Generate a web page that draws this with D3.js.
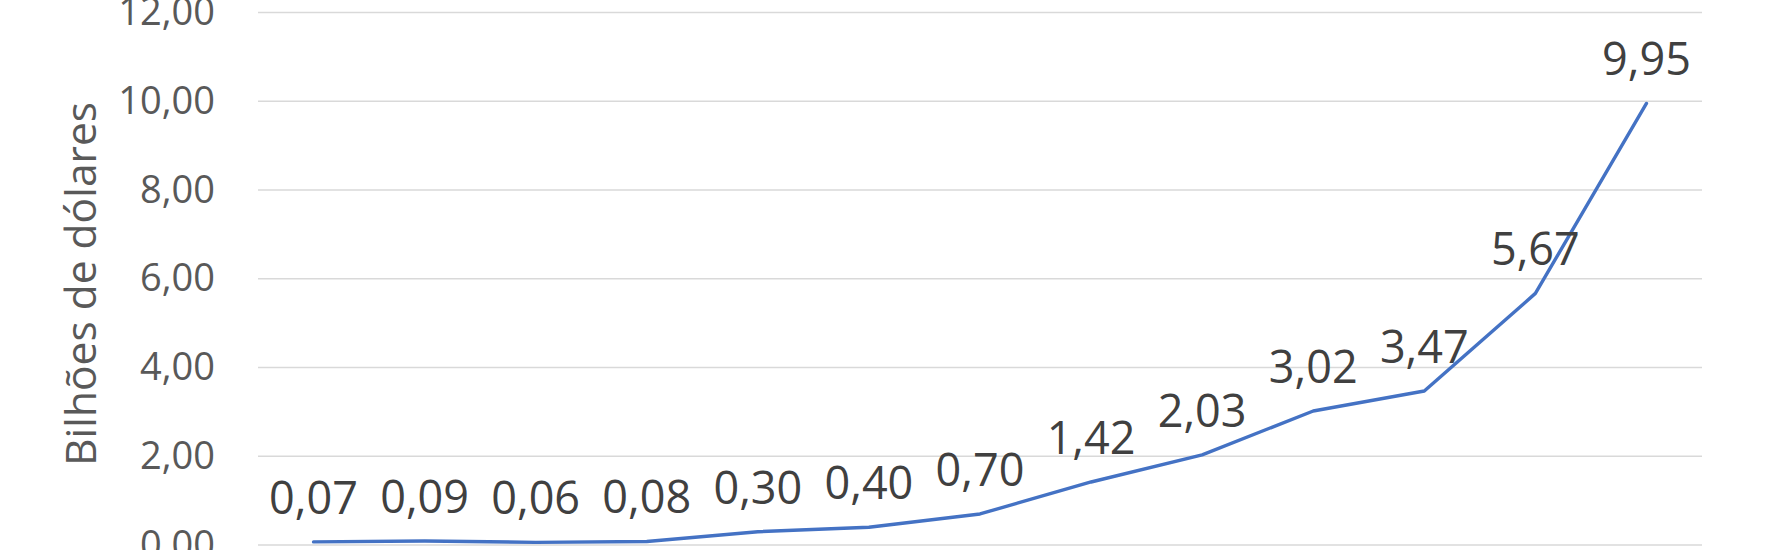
<!DOCTYPE html>
<html lang="pt">
<head>
  <meta charset="UTF-8" />
  <title>Bilhões de dólares</title>
  <script src="https://d3js.org/d3.v7.min.js"></script>
  <style>
    body {
      margin: 0;
      background: #ffffff;
      font-family: "Open Sans", sans-serif;
    }
    svg {
      display: block;
    }
  </style>
</head>
<body>
  <div id="chart"></div>
  <script>
    // pontos da série (eixo x sem rótulos visíveis)
    const categories = ["1", "2", "3", "4", "5", "6", "7", "8", "9", "10", "11", "12", "13"];
    const values = [0.07, 0.09, 0.06, 0.08, 0.30, 0.40, 0.70, 1.42, 2.03, 3.02, 3.47, 5.67, 9.95];
    const yTicks = [0, 2, 4, 6, 8, 10, 12];
    const yTitle = "Bilhões de dólares";

    const W = 1772, H = 550;
    const margin = { top: 12.5, right: 70, bottom: 5, left: 258 };

    const fmt = (v) => d3.format(".2f")(v).replace(".", ",");

    const svg = d3.select("#chart")
      .append("svg")
      .attr("width", W)
      .attr("height", H);

    const x = d3.scaleBand()
      .domain(categories)
      .range([margin.left, W - margin.right]);

    const y = d3.scaleLinear()
      .domain([0, 12])
      .range([H - margin.bottom, margin.top]);

    // linhas de grade
    svg.append("g")
      .selectAll("line")
      .data(yTicks)
      .join("line")
      .attr("x1", margin.left)
      .attr("x2", W - margin.right)
      .attr("y1", (d) => y(d))
      .attr("y2", (d) => y(d))
      .attr("stroke", "#d9d9d9")
      .attr("stroke-width", 1.3);

    // eixo y
    const yAxis = svg.append("g")
      .attr("transform", `translate(${margin.left},0)`)
      .call(d3.axisLeft(y).tickValues(yTicks).tickFormat(fmt).tickSize(0).tickPadding(43));
    yAxis.select(".domain").remove();
    yAxis.selectAll("text")
      .attr("fill", "#595959")
      .style("font-family", "Open Sans")
      .style("font-size", "38px");

    svg.append("text")
      .attr("transform", `translate(96,284) rotate(-90)`)
      .attr("text-anchor", "middle")
      .attr("fill", "#595959")
      .style("font-size", "42.5px")
      .text(yTitle);

    const cx = (i) => x(categories[i]) + x.bandwidth() / 2;

    const line = d3.line()
      .x((d, i) => cx(i))
      .y((d) => y(d));

    svg.append("path")
      .datum(values)
      .attr("fill", "none")
      .attr("stroke", "#4472c4")
      .attr("stroke-width", 3.4)
      .attr("stroke-linejoin", "round")
      .attr("stroke-linecap", "round")
      .attr("d", line);

    svg.append("g")
      .selectAll("text")
      .data(values)
      .join("text")
      .attr("x", (d, i) => cx(i))
      .attr("y", (d) => y(d) - 28)
      .attr("text-anchor", "middle")
      .attr("fill", "#404040")
      .style("font-size", "45px")
      .text(fmt);
  </script>
</body>
</html>
